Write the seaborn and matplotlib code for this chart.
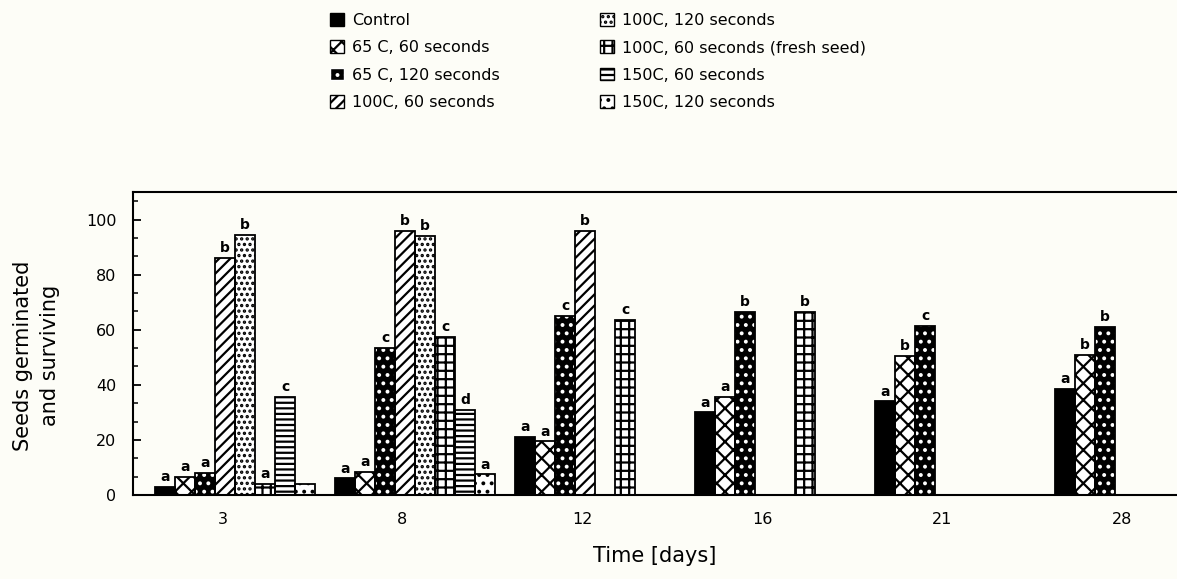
import numpy as np
import pandas as pd
import seaborn as sns
import matplotlib.pyplot as plt
from matplotlib.patches import Patch, Rectangle
from matplotlib.ticker import MultipleLocator, AutoMinorLocator

days = ["3", "8", "12", "16", "21", "28"]
treatments = [
    "Control",
    "65 C, 60 seconds",
    "65 C, 120 seconds",
    "100C, 60 seconds",
    "100C, 120 seconds",
    "100C, 60 seconds (fresh seed)",
    "150C, 60 seconds",
    "150C, 120 seconds",
]

# values per treatment, one entry per day (nan = no bar)
control = [3, 6, 21, 30, 34, 38.5]
c65_60 = [6.5, 8.5, 19.5, 35.5, 50.5, 51]
c65_120 = [8, 53.5, 65, 66.5, 61.5, 61]
c100_60 = [86, 96, 96, np.nan, np.nan, np.nan]
c100_120 = [94.5, 94, np.nan, np.nan, np.nan, np.nan]
c100_60_fresh = [4, 57.5, 63.5, 66.5, np.nan, np.nan]
c150_60 = [35.5, 31, np.nan, np.nan, np.nan, np.nan]
c150_120 = [4, 7.5, np.nan, np.nan, np.nan, np.nan]

# significance letters above bars
lt_control = ["a", "a", "a", "a", "a", "a"]
lt_65_60 = ["a", "a", "a", "a", "b", "b"]
lt_65_120 = ["a", "c", "c", "b", "c", "b"]
lt_100_60 = ["b", "b", "b", None, None, None]
lt_100_120 = ["b", "b", None, None, None, None]
lt_fresh = ["a", "c", "c", "b", None, None]
lt_150_60 = ["c", "d", None, None, None, None]
lt_150_120 = ["", "a", None, None, None, None]

values = [control, c65_60, c65_120, c100_60, c100_120, c100_60_fresh, c150_60, c150_120]
letters = [lt_control, lt_65_60, lt_65_120, lt_100_60, lt_100_120, lt_fresh, lt_150_60, lt_150_120]

# (face, hatch colour, hatch)
styles = [
    ("black", "black", None),
    ("white", "black", "xx"),
    ("black", "white", ".."),
    ("white", "black", "///"),
    ("white", "black", "..."),
    ("white", "black", "++"),
    ("white", "black", "---"),
    ("white", "black", ".."),
]

rows = []
for t, vals in zip(treatments, values):
    for d, v in zip(days, vals):
        if not np.isnan(v):
            rows.append({"day": d, "treatment": t, "value": v})
df = pd.DataFrame(rows)

sns.set_style("ticks")
plt.rcParams["font.family"] = ["DejaVu Sans"]
plt.rcParams["hatch.linewidth"] = 1.6
for k in ["text.color", "axes.labelcolor", "xtick.color", "ytick.color", "axes.edgecolor"]:
    plt.rcParams[k] = "black"
bg = "#fdfdf7"

fig = plt.figure(figsize=(11.77, 5.79), dpi=100, facecolor=bg)
ax = fig.add_axes([133 / 1177, 84 / 579, 1044 / 1177, 303 / 579])
ax.set_facecolor(bg)

sns.barplot(data=df, x="day", y="value", hue="treatment", order=days,
            hue_order=treatments, width=0.89, dodge=True, legend=False,
            errorbar=None, ax=ax)

for cont, (face, hc, hatch), labs, vals in zip(ax.containers, styles, letters, values):
    for bar in cont:
        bar.set_facecolor(face)
        bar.set_edgecolor(hc)
        bar.set_linewidth(0)
        if hatch:
            bar.set_hatch(hatch)
        ax.add_patch(Rectangle(bar.get_xy(), bar.get_width(), bar.get_height(),
                               fill=False, edgecolor="black", linewidth=1.3, zorder=3))
    shown = [l for l, v in zip(labs, vals) if not np.isnan(v)]
    ax.bar_label(cont, labels=shown, padding=2, fontsize=10, fontweight="bold",
                 color="black")

ax.set_ylim(0, 110)
ax.set_xlim(-0.567, 5.233)
ax.yaxis.set_major_locator(MultipleLocator(20))
ax.yaxis.set_minor_locator(AutoMinorLocator(3))
ax.set_yticks([0, 20, 40, 60, 80, 100])
ax.set_xticks(np.arange(len(days)) - 0.07, days)
ax.tick_params(axis="y", which="major", direction="in", length=6, width=1.3,
               labelsize=11.5, pad=12)
ax.tick_params(axis="y", which="minor", direction="in", length=3.5, width=1.1)
ax.tick_params(axis="x", length=0, labelsize=11.5, pad=12)
ax.spines["right"].set_visible(False)
for s in ["left", "bottom", "top"]:
    ax.spines[s].set_linewidth(1.5)

ax.set_xlabel("Time [days]", fontsize=15, labelpad=14)
ax.set_ylabel("Seeds germinated\nand surviving", fontsize=15, linespacing=1.45)
ax.yaxis.set_label_coords(-0.07, 0.46)

handles = []
for f, h, ht in styles:
    edge = h if f == "black" else "black"
    handles.append(Patch(facecolor=f, edgecolor=edge, hatch=ht, linewidth=1))
for idx, x0 in [(slice(0, 4), 330 / 1177), (slice(4, 8), 600 / 1177)]:
    fig.legend(handles[idx], treatments[idx], loc="upper left",
               bbox_to_anchor=(x0, 0.978), frameon=False, fontsize=11.5,
               handlelength=0.85, handleheight=0.85, handletextpad=0.55,
               labelspacing=0.78, borderpad=0, borderaxespad=0)

fig.savefig("out.png", dpi=100, facecolor=bg)
